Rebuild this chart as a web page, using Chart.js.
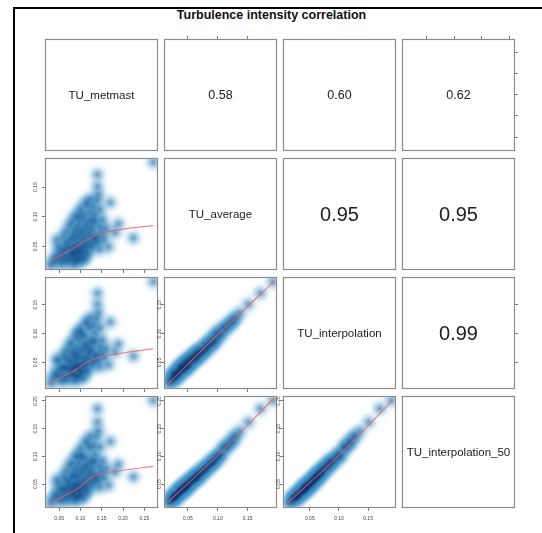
<!DOCTYPE html>
<html><head><meta charset="utf-8">
<script src="https://cdn.jsdelivr.net/npm/chart.js@4.4.1/dist/chart.umd.min.js"></script>
<style>
html,body{margin:0;padding:0;background:#fff;}
body{width:542px;height:533px;position:relative;overflow:hidden;font-family:"Liberation Sans",Arial,sans-serif;}
#frame{position:absolute;left:13px;top:7px;width:560px;height:560px;border-top:2px solid #000;border-left:2px solid #000;}
#title{position:absolute;left:0;width:543px;top:9px;line-height:12px;text-align:center;font-weight:bold;font-size:12.5px;color:#111;}
canvas{position:absolute;}
.lab{position:absolute;display:flex;align-items:center;justify-content:center;color:#222;white-space:nowrap;}
</style></head><body>
<div id="frame"></div>
<div id="title">Turbulence intensity correlation</div>
<script>
// ---------- data (one value per observation) ----------
const TU_metmast = [
0.072,0.078,0.083,0.088,0.091,0.095,0.099,0.076,0.081,0.086,
0.093,0.098,0.102,0.105,0.108,0.070,0.066,0.063,0.068,0.085,
0.090,0.096,0.101,0.079,0.087,0.094,0.074,0.082,0.089,0.097,
0.104,0.110,0.113,0.116,0.112,0.107,0.060,0.058,0.064,0.084,
0.030,0.036,0.041,0.045,0.049,0.052,0.055,0.044,0.048,0.056,
0.072,0.078,0.083,0.088,0.093,0.097,0.101,0.106,0.110,0.115,
0.119,0.123,0.127,0.131,0.120,0.125,0.130,0.136,0.140,0.080,
0.091,0.107,0.085,0.096,0.112,0.118,0.103,0.127,0.060,0.066,
0.101,0.110,0.122,0.134,0.146,0.123,0.138,0.116,0.142,0.140,
0.140,0.170,0.094,0.131,
0.146,0.138,0.150,0.155,0.166,0.160,0.181,0.189,0.224,0.271,
0.145,0.152,
0.066,0.075,0.088,0.100,0.113,0.118,0.129,0.135];
const TU_average = [
0.030,0.026,0.033,0.028,0.036,0.031,0.040,0.038,0.042,0.045,
0.048,0.044,0.035,0.041,0.047,0.044,0.035,0.028,0.024,0.022,
0.025,0.027,0.029,0.034,0.039,0.042,0.048,0.050,0.052,0.053,
0.055,0.052,0.044,0.038,0.033,0.027,0.040,0.032,0.046,0.037,
0.018,0.024,0.028,0.033,0.026,0.037,0.043,0.061,0.050,0.022,
0.058,0.063,0.067,0.060,0.070,0.064,0.075,0.068,0.062,0.058,
0.071,0.066,0.078,0.061,0.052,0.048,0.054,0.066,0.057,0.092,
0.081,0.078,0.075,0.087,0.085,0.091,0.095,0.096,0.066,0.055,
0.106,0.101,0.108,0.104,0.112,0.130,0.128,0.119,0.137,0.151,
0.171,0.124,0.099,0.117,
0.083,0.066,0.072,0.062,0.049,0.080,0.073,0.088,0.064,0.192,
0.045,0.095,
0.075,0.085,0.101,0.114,0.124,0.080,0.088,0.093];
const TU_interpolation = [
0.028,0.031,0.030,0.025,0.040,0.027,0.036,0.043,0.037,0.051,
0.043,0.047,0.032,0.046,0.041,0.040,0.038,0.024,0.021,0.019,
0.028,0.024,0.033,0.031,0.042,0.038,0.052,0.045,0.055,0.047,
0.058,0.046,0.049,0.034,0.036,0.023,0.043,0.029,0.042,0.039,
0.014,0.022,0.031,0.029,0.025,0.040,0.038,0.055,0.053,0.018,
0.054,0.067,0.060,0.063,0.064,0.059,0.070,0.072,0.055,0.061,
0.066,0.069,0.071,0.056,0.055,0.045,0.050,0.062,0.053,0.085,
0.076,0.082,0.069,0.090,0.078,0.084,0.098,0.089,0.062,0.058,
0.101,0.095,0.110,0.101,0.110,0.128,0.126,0.117,0.136,0.151,
0.170,0.120,0.103,0.115,
0.077,0.063,0.066,0.059,0.046,0.074,0.068,0.082,0.061,0.190,
0.042,0.089,
0.071,0.081,0.096,0.109,0.120,0.075,0.083,0.088];
const TU_interpolation_50 = [
0.029,0.030,0.032,0.027,0.038,0.029,0.038,0.041,0.040,0.048,
0.046,0.045,0.034,0.044,0.044,0.043,0.036,0.026,0.023,0.021,
0.026,0.027,0.031,0.033,0.040,0.041,0.050,0.049,0.053,0.051,
0.056,0.050,0.046,0.037,0.035,0.025,0.041,0.031,0.045,0.038,
0.016,0.023,0.029,0.032,0.024,0.039,0.041,0.058,0.051,0.020,
0.056,0.065,0.064,0.061,0.068,0.062,0.073,0.070,0.059,0.060,
0.069,0.067,0.075,0.059,0.054,0.047,0.053,0.064,0.056,0.089,
0.079,0.080,0.073,0.088,0.083,0.088,0.097,0.093,0.064,0.057,
0.104,0.099,0.115,0.104,0.117,0.137,0.136,0.123,0.146,0.162,
0.186,0.127,0.101,0.120,
0.081,0.065,0.070,0.061,0.048,0.078,0.072,0.086,0.063,0.201,
0.044,0.093,
0.074,0.084,0.100,0.115,0.128,0.078,0.087,0.092];

const VAR_NAMES = ['TU_metmast','TU_average','TU_interpolation','TU_interpolation_50'];
const CORR_PAIRS = [[0,1],[0,2],[0,3],[1,2],[1,3],[2,3]];
const CORR_LABELS = ['0.58','0.60','0.62','0.95','0.95','0.99'];
const AXIS_MIN = [0.017,0.010,0.004,0.007];
const AXIS_MAX = [0.282,0.199,0.198,0.209];
const TICK_VALUES = [0.05,0.10,0.15,0.20,0.25];

// smoother (lowess) curves
const low_met_avg_x = [0.029,0.060,0.091,0.115,0.138,0.162,0.201,0.271];
const low_met_avg_y = [0.025,0.037,0.050,0.061,0.069,0.074,0.079,0.085];
const low_met_int_x = [0.029,0.060,0.091,0.115,0.140,0.170,0.271];
const low_met_int_y = [0.015,0.026,0.038,0.050,0.058,0.063,0.074];
const low_met_i50_x = [0.029,0.068,0.099,0.120,0.145,0.180,0.271];
const low_met_i50_y = [0.016,0.031,0.045,0.059,0.068,0.073,0.082];
const low_avg_int_x = [0.017,0.100,0.194];
const low_avg_int_y = [0.013,0.098,0.190];
const low_avg_i50_x = [0.017,0.100,0.194];
const low_avg_i50_y = [0.018,0.102,0.205];
const low_int_i50_x = [0.012,0.100,0.192];
const low_int_i50_y = [0.016,0.102,0.201];

// ---------- layout ----------
const VARS = [TU_metmast,TU_average,TU_interpolation,TU_interpolation_50];
const LOWESS = {
  '1,0':[low_met_avg_x,low_met_avg_y], '2,0':[low_met_int_x,low_met_int_y], '3,0':[low_met_i50_x,low_met_i50_y],
  '2,1':[low_avg_int_x,low_avg_int_y], '3,1':[low_avg_i50_x,low_avg_i50_y], '3,2':[low_int_i50_x,low_int_i50_y]
};
const PANEL_X=[45,164,283,402], PANEL_Y=[39,158,277,396], PW=113, PH=112;
const ML=18, MR=6, MT=6, MB=20;

function makeBlob(r, rgb, a0, a1){
  const c=document.createElement('canvas'); c.width=c.height=r*2;
  const x=c.getContext('2d');
  const g=x.createRadialGradient(r,r,0,r,r,r);
  g.addColorStop(0,'rgba('+rgb+','+a0+')');
  g.addColorStop(0.45,'rgba('+rgb+','+a1+')');
  g.addColorStop(1,'rgba('+rgb+',0)');
  x.fillStyle=g; x.fillRect(0,0,r*2,r*2);
  return c;
}
const HAZE = makeBlob(13,'107,174,214',0.22,0.12);
const HALO = makeBlob(9,'66,146,198',0.5,0.32);
const CORE = makeBlob(5,'8,48,107',0.26,0.13);

const boxPlugin = {id:'box', afterDatasetsDraw(chart){
  const a=chart.chartArea, c=chart.ctx; c.save(); c.strokeStyle='#8c8c8c'; c.lineWidth=1.2;
  c.strokeRect(a.left+0.5,a.top+0.5,a.right-a.left-1,a.bottom-a.top-1); c.restore();}};

function tickFilter(s){ s.ticks = TICK_VALUES.filter(v=>v>=s.min-1e-9 && v<=s.max+1e-9).map(v=>({value:v})); }

function axis(pos, vi, size, showTicks, showLabels, pad){
  const horiz = pos==='top'||pos==='bottom';
  return {
    type:'linear', position:pos, axis: horiz?'x':'y', min:AXIS_MIN[vi], max:AXIS_MAX[vi],
    afterBuildTicks: tickFilter,
    afterFit(s){ if(horiz){s.height=size;} else {s.width=size;} s.paddingLeft=0;s.paddingRight=0;s.paddingTop=0;s.paddingBottom=0; },
    grid:{display:showTicks, drawOnChartArea:false, drawTicks:true, tickLength:3, color:'#7a7a7a', lineWidth:1},
    border:{display:false},
    ticks:Object.assign({display:showLabels, autoSkip:false, font:{size:5, family:'Liberation Sans'}, color:'#444', padding:pad,
      minRotation: horiz?0:90, maxRotation: horiz?0:90, callback:v=>v.toFixed(2)}, horiz?{}:{crossAlign:'center'})
  };
}

function makePanel(r,c){
  const cv=document.createElement('canvas');
  cv.width=PW+ML+MR; cv.height=PH+MT+MB;
  cv.style.left=(PANEL_X[c]-ML)+'px'; cv.style.top=(PANEL_Y[r]-MT)+'px';
  document.body.appendChild(cv);
  const lower = r>c;
  const datasets=[];
  if(lower){
    const pts = VARS[c].map((v,k)=>({x:v,y:VARS[r][k]}));
    const lw = LOWESS[r+','+c];
    datasets.push({type:'line', data: lw[0].map((v,k)=>({x:v,y:lw[1][k]})), borderColor:'rgba(245,90,100,0.72)', borderWidth:1.2,
      pointRadius:0, cubicInterpolationMode:'monotone', order:0, clip:0});
    datasets.push({type:'scatter', data:pts, pointStyle:CORE, order:1, clip:0});
    datasets.push({type:'scatter', data:pts, pointStyle:HALO, order:2, clip:0});
    datasets.push({type:'scatter', data:pts, pointStyle:HAZE, order:3, clip:0});
  }
  new Chart(cv,{
    type:'scatter',
    data:{datasets},
    options:{
      responsive:false, animation:false, events:[],
      layout:{padding:0},
      plugins:{legend:{display:false}, tooltip:{enabled:false}},
      scales:{
        x: axis('bottom', c, MB, lower, lower && r===3, 5),
        y: axis('left', r, ML, lower, lower, c===0?2:-3),
        xt: axis('top', c, MT, r===0 && (c===1||c===3), false, 0),
        yr: axis('right', r, MR, c===3 && (r===0||r===2), false, 0)
      }
    },
    plugins:[boxPlugin]
  });
}

function addLabel(r,c,text,size){
  const d=document.createElement('div'); d.className='lab';
  d.style.left=PANEL_X[c]+'px'; d.style.top=PANEL_Y[r]+'px';
  d.style.width=PW+'px'; d.style.height=PH+'px'; d.style.fontSize=size+'px';
  d.textContent=text; document.body.appendChild(d);
}

for(let r=0;r<4;r++) for(let c=0;c<4;c++) makePanel(r,c);
for(let k=0;k<4;k++) addLabel(k,k,VAR_NAMES[k],11.5);
CORR_PAIRS.forEach((p,k)=>{ const big = parseFloat(CORR_LABELS[k])>0.9; addLabel(p[0],p[1],CORR_LABELS[k], big?20:12.5); });
</script>
</body></html>
